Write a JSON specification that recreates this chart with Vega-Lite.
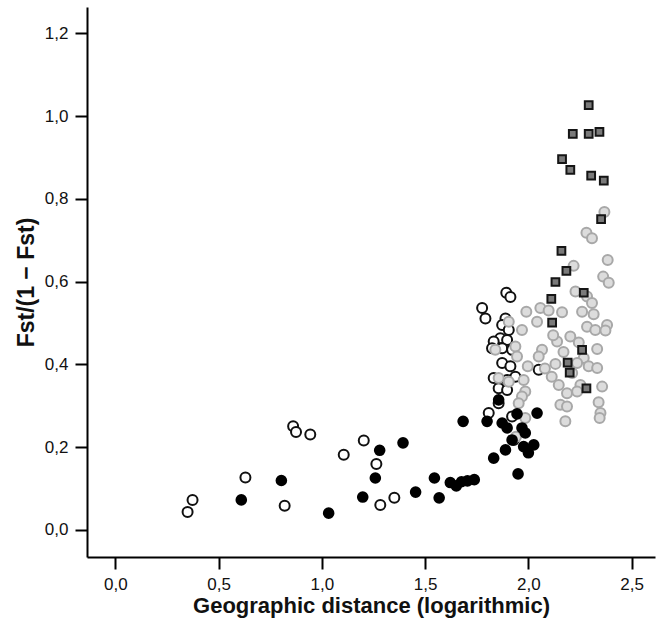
{
  "$schema": "https://vega.github.io/schema/vega-lite/v6.json",
  "autosize": {"type": "none"},
  "padding": {"left": 87, "top": 7, "right": 2, "bottom": 77},
  "width": 568,
  "height": 550,
  "background": "white",
  "config": {
    "view": {"stroke": null},
    "font": "Liberation Sans",
    "axis": {
      "grid": false,
      "domainColor": "#000",
      "domainWidth": 2,
      "tickColor": "#000",
      "tickWidth": 2,
      "tickSize": 12,
      "labelFont": "Liberation Sans",
      "labelFontSize": 17,
      "labelColor": "#111",
      "labelPadding": 7,
      "titleFont": "Liberation Sans",
      "titleFontSize": 22,
      "titleFontWeight": "bold",
      "titleColor": "#111"
    }
  },
  "data": {
    "values": [
      {"g": "open", "d": 0.350, "f": 0.043},
      {"g": "open", "d": 0.374, "f": 0.072},
      {"g": "open", "d": 0.630, "f": 0.126},
      {"g": "open", "d": 0.820, "f": 0.058},
      {"g": "open", "d": 0.861, "f": 0.250},
      {"g": "open", "d": 0.875, "f": 0.236},
      {"g": "open", "d": 0.944, "f": 0.230},
      {"g": "open", "d": 1.106, "f": 0.181},
      {"g": "open", "d": 1.203, "f": 0.216},
      {"g": "open", "d": 1.264, "f": 0.159},
      {"g": "open", "d": 1.283, "f": 0.060},
      {"g": "open", "d": 1.351, "f": 0.077},
      {"g": "open", "d": 1.776, "f": 0.536},
      {"g": "open", "d": 1.792, "f": 0.511},
      {"g": "open", "d": 1.893, "f": 0.573},
      {"g": "open", "d": 1.913, "f": 0.563},
      {"g": "open", "d": 1.889, "f": 0.511},
      {"g": "open", "d": 1.873, "f": 0.495},
      {"g": "open", "d": 1.905, "f": 0.483},
      {"g": "open", "d": 1.864, "f": 0.463},
      {"g": "open", "d": 1.832, "f": 0.455},
      {"g": "open", "d": 1.897, "f": 0.459},
      {"g": "open", "d": 1.824, "f": 0.439},
      {"g": "open", "d": 1.873, "f": 0.439},
      {"g": "open", "d": 1.921, "f": 0.435},
      {"g": "open", "d": 1.873, "f": 0.403},
      {"g": "open", "d": 1.913, "f": 0.395},
      {"g": "open", "d": 2.050, "f": 0.387},
      {"g": "open", "d": 1.832, "f": 0.367},
      {"g": "open", "d": 1.897, "f": 0.362},
      {"g": "open", "d": 1.937, "f": 0.370},
      {"g": "open", "d": 1.856, "f": 0.342},
      {"g": "open", "d": 1.897, "f": 0.338},
      {"g": "open", "d": 1.856, "f": 0.306},
      {"g": "open", "d": 1.808, "f": 0.282},
      {"g": "open", "d": 1.921, "f": 0.274},
      {"g": "open", "d": 1.929, "f": 0.217},
      {"g": "grey", "d": 2.368, "f": 0.768},
      {"g": "grey", "d": 2.281, "f": 0.718},
      {"g": "grey", "d": 2.308, "f": 0.705},
      {"g": "grey", "d": 2.219, "f": 0.638},
      {"g": "grey", "d": 2.384, "f": 0.652},
      {"g": "grey", "d": 2.362, "f": 0.612},
      {"g": "grey", "d": 2.389, "f": 0.597},
      {"g": "grey", "d": 2.228, "f": 0.576},
      {"g": "grey", "d": 2.284, "f": 0.564},
      {"g": "grey", "d": 2.308, "f": 0.548},
      {"g": "grey", "d": 1.990, "f": 0.527},
      {"g": "grey", "d": 2.058, "f": 0.536},
      {"g": "grey", "d": 2.098, "f": 0.530},
      {"g": "grey", "d": 2.163, "f": 0.526},
      {"g": "grey", "d": 2.042, "f": 0.503},
      {"g": "grey", "d": 1.905, "f": 0.503},
      {"g": "grey", "d": 2.260, "f": 0.527},
      {"g": "grey", "d": 2.316, "f": 0.521},
      {"g": "grey", "d": 2.284, "f": 0.491},
      {"g": "grey", "d": 2.324, "f": 0.483},
      {"g": "grey", "d": 2.381, "f": 0.495},
      {"g": "grey", "d": 2.373, "f": 0.482},
      {"g": "grey", "d": 1.969, "f": 0.483},
      {"g": "grey", "d": 2.203, "f": 0.467},
      {"g": "grey", "d": 2.244, "f": 0.453},
      {"g": "grey", "d": 2.139, "f": 0.455},
      {"g": "grey", "d": 2.066, "f": 0.435},
      {"g": "grey", "d": 1.937, "f": 0.443},
      {"g": "grey", "d": 1.945, "f": 0.419},
      {"g": "grey", "d": 2.050, "f": 0.419},
      {"g": "grey", "d": 2.268, "f": 0.415},
      {"g": "grey", "d": 2.333, "f": 0.437},
      {"g": "grey", "d": 2.131, "f": 0.401},
      {"g": "grey", "d": 2.236, "f": 0.403},
      {"g": "grey", "d": 2.292, "f": 0.395},
      {"g": "grey", "d": 2.333, "f": 0.391},
      {"g": "grey", "d": 1.997, "f": 0.395},
      {"g": "grey", "d": 2.113, "f": 0.370},
      {"g": "grey", "d": 2.212, "f": 0.379},
      {"g": "grey", "d": 1.856, "f": 0.367},
      {"g": "grey", "d": 1.905, "f": 0.358},
      {"g": "grey", "d": 1.977, "f": 0.362},
      {"g": "grey", "d": 2.147, "f": 0.350},
      {"g": "grey", "d": 2.252, "f": 0.350},
      {"g": "grey", "d": 2.357, "f": 0.346},
      {"g": "grey", "d": 1.985, "f": 0.334},
      {"g": "grey", "d": 2.187, "f": 0.330},
      {"g": "grey", "d": 2.236, "f": 0.334},
      {"g": "grey", "d": 1.969, "f": 0.322},
      {"g": "grey", "d": 2.155, "f": 0.302},
      {"g": "grey", "d": 2.187, "f": 0.298},
      {"g": "grey", "d": 2.340, "f": 0.308},
      {"g": "grey", "d": 1.953, "f": 0.306},
      {"g": "grey", "d": 2.349, "f": 0.282},
      {"g": "grey", "d": 2.345, "f": 0.270},
      {"g": "grey", "d": 2.179, "f": 0.262},
      {"g": "grey", "d": 1.985, "f": 0.270},
      {"g": "grey", "d": 1.840, "f": 0.435},
      {"g": "grey", "d": 2.080, "f": 0.390},
      {"g": "grey", "d": 2.170, "f": 0.430},
      {"g": "grey", "d": 2.120, "f": 0.470},
      {"g": "grey", "d": 1.940, "f": 0.225},
      {"g": "filled", "d": 0.610, "f": 0.072},
      {"g": "filled", "d": 0.804, "f": 0.119},
      {"g": "filled", "d": 1.033, "f": 0.040},
      {"g": "filled", "d": 1.198, "f": 0.079},
      {"g": "filled", "d": 1.280, "f": 0.192},
      {"g": "filled", "d": 1.393, "f": 0.210},
      {"g": "filled", "d": 1.259, "f": 0.125},
      {"g": "filled", "d": 1.454, "f": 0.091},
      {"g": "filled", "d": 1.545, "f": 0.125},
      {"g": "filled", "d": 1.568, "f": 0.077},
      {"g": "filled", "d": 1.622, "f": 0.114},
      {"g": "filled", "d": 1.651, "f": 0.106},
      {"g": "filled", "d": 1.676, "f": 0.116},
      {"g": "filled", "d": 1.705, "f": 0.118},
      {"g": "filled", "d": 1.738, "f": 0.121},
      {"g": "filled", "d": 1.856, "f": 0.314},
      {"g": "filled", "d": 1.684, "f": 0.262},
      {"g": "filled", "d": 1.800, "f": 0.262},
      {"g": "filled", "d": 1.873, "f": 0.258},
      {"g": "filled", "d": 1.945, "f": 0.280},
      {"g": "filled", "d": 2.042, "f": 0.282},
      {"g": "filled", "d": 1.897, "f": 0.246},
      {"g": "filled", "d": 1.969, "f": 0.246},
      {"g": "filled", "d": 1.985, "f": 0.234},
      {"g": "filled", "d": 1.921, "f": 0.217},
      {"g": "filled", "d": 1.889, "f": 0.193},
      {"g": "filled", "d": 1.977, "f": 0.201},
      {"g": "filled", "d": 2.026, "f": 0.205},
      {"g": "filled", "d": 1.832, "f": 0.173},
      {"g": "filled", "d": 2.000, "f": 0.186},
      {"g": "filled", "d": 1.950, "f": 0.135},
      {"g": "square", "d": 2.292, "f": 1.027},
      {"g": "square", "d": 2.215, "f": 0.957},
      {"g": "square", "d": 2.292, "f": 0.957},
      {"g": "square", "d": 2.344, "f": 0.962},
      {"g": "square", "d": 2.163, "f": 0.896},
      {"g": "square", "d": 2.203, "f": 0.870},
      {"g": "square", "d": 2.304, "f": 0.856},
      {"g": "square", "d": 2.365, "f": 0.844},
      {"g": "square", "d": 2.352, "f": 0.751},
      {"g": "square", "d": 2.160, "f": 0.674},
      {"g": "square", "d": 2.184, "f": 0.626},
      {"g": "square", "d": 2.131, "f": 0.599},
      {"g": "square", "d": 2.268, "f": 0.573},
      {"g": "square", "d": 2.111, "f": 0.558},
      {"g": "square", "d": 2.115, "f": 0.501},
      {"g": "square", "d": 2.260, "f": 0.435},
      {"g": "square", "d": 2.190, "f": 0.404},
      {"g": "square", "d": 2.200, "f": 0.380},
      {"g": "square", "d": 2.281, "f": 0.342}
    ]
  },
  "encoding": {
    "x": {
      "field": "d", "type": "quantitative",
      "scale": {"domain": [-0.137, 2.613], "nice": false, "zero": false},
      "axis": {
        "values": [0, 0.5, 1, 1.5, 2, 2.5],
        "labelExpr": "replace(format(datum.value, '.1f'), '.', ',')",
        "title": "Geographic distance (logarithmic)",
        "titlePadding": 3
      }
    },
    "y": {
      "field": "f", "type": "quantitative",
      "scale": {"domain": [-0.066, 1.264], "nice": false, "zero": false},
      "axis": {
        "values": [0, 0.2, 0.4, 0.6, 0.8, 1.0, 1.2],
        "labelExpr": "replace(format(datum.value, '.1f'), '.', ',')",
        "title": "Fst/(1 − Fst)",
        "titleFontSize": 23,
        "titlePadding": 6
      }
    }
  },
  "layer": [
    {
      "transform": [{"filter": "datum.g === 'open'"}],
      "mark": {"type": "circle", "fill": "white", "fillOpacity": 1, "stroke": "#111", "strokeWidth": 2, "size": 100, "opacity": 1}
    },
    {
      "transform": [{"filter": "datum.g === 'grey'"}],
      "mark": {"type": "circle", "fill": "#dcdcdc", "fillOpacity": 1, "stroke": "#a8a8a8", "strokeWidth": 2, "size": 100, "opacity": 1}
    },
    {
      "transform": [{"filter": "datum.g === 'filled'"}],
      "mark": {"type": "circle", "fill": "#000", "fillOpacity": 1, "size": 135, "opacity": 1}
    },
    {
      "transform": [{"filter": "datum.g === 'square'"}],
      "mark": {"type": "square", "fill": "#7a7a7a", "fillOpacity": 1, "stroke": "#151515", "strokeWidth": 2, "size": 60, "opacity": 1}
    }
  ]
}
